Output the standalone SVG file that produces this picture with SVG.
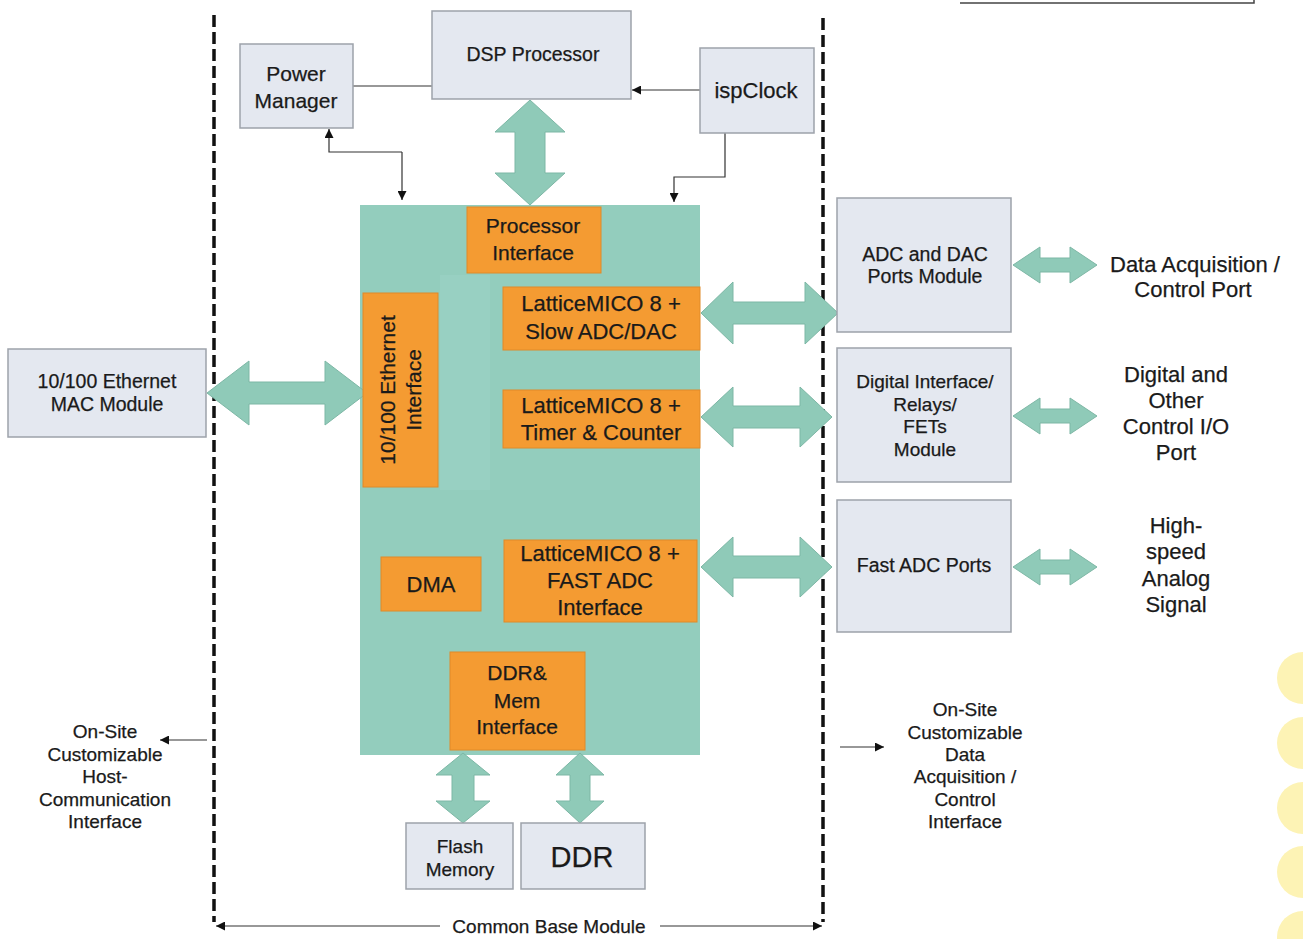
<svg xmlns="http://www.w3.org/2000/svg" width="1303" height="939" viewBox="0 0 1303 939">
<defs>
<style>
.t{font-family:"Liberation Sans",Arial,sans-serif;fill:#1a1a1a;text-anchor:middle;stroke:#1a1a1a;stroke-width:0.25}
.box{fill:#e4e8f0;stroke:#9da2aa;stroke-width:1.5}
.org{fill:#f49b32;stroke:#e08a28;stroke-width:1}
.fat{fill:#8fcab8;stroke:#7db7a5;stroke-width:1}
.thin{fill:none;stroke:#333;stroke-width:1.2}
.dash{fill:none;stroke:#111;stroke-width:3.5;stroke-dasharray:12 5}
</style>
<marker id="ah" viewBox="0 0 10 10" refX="10" refY="5" markerWidth="9" markerHeight="9" markerUnits="userSpaceOnUse" orient="auto">
<path d="M0,0 L10,5 L0,10 Z" fill="#111"/>
</marker>
</defs>
<rect width="1303" height="939" fill="#ffffff"/>

<!-- top right remnant -->
<path d="M960,3 H1254 V0" fill="none" stroke="#444" stroke-width="1.5"/>

<!-- yellow circles -->
<g fill="#fdf3b5">
<circle cx="1303" cy="678" r="26"/>
<circle cx="1303" cy="743" r="26"/>
<circle cx="1303" cy="808" r="26"/>
<circle cx="1303" cy="872" r="26"/>
<circle cx="1303" cy="937" r="26"/>
</g>

<!-- boundary dashed lines -->
<g id="boundary">
<line class="dash" x1="214" y1="15" x2="214" y2="922"/>
<line class="dash" x1="823" y1="18" x2="823" y2="922"/>
</g>

<!-- main teal block -->
<g id="fpga">
<rect x="360" y="205" width="340" height="550" fill="#93cdbd"/>
<rect x="440" y="275" width="50" height="215" fill="#98d0c2"/>
</g>

<g id="connectors">
<!-- fat arrows -->
<path class="fat" d="M530,100 L565,132 L545,132 L545,173 L565,173 L530,205 L495,173 L515,173 L515,132 L495,132 Z"/>
<path class="fat" d="M207,393 L249,361 L249,382 L325,382 L325,361 L367,393 L325,425 L325,404 L249,404 L249,425 Z"/>
<path class="fat" d="M701,313 L733,282 L733,302 L805,302 L805,282 L838,313 L805,344 L805,324 L733,324 L733,344 Z"/>
<path class="fat" d="M701,417 L733,387 L733,406 L800,406 L800,387 L832,417 L800,447 L800,428 L733,428 L733,447 Z"/>
<path class="fat" d="M701,567 L733,537 L733,556 L800,556 L800,537 L832,567 L800,597 L800,578 L733,578 L733,597 Z"/>
<path class="fat" d="M463,753 L490,775 L474,775 L474,801 L490,801 L463,823 L436,801 L452,801 L452,775 L436,775 Z"/>
<path class="fat" d="M580,753 L604,775 L590,775 L590,801 L604,801 L580,823 L556,801 L570,801 L570,775 L556,775 Z"/>
<path class="fat" d="M1013,265 L1040,247 L1040,258 L1070,258 L1070,247 L1097,265 L1070,283 L1070,272 L1040,272 L1040,283 Z"/>
<path class="fat" d="M1013,416 L1040,398 L1040,409 L1070,409 L1070,398 L1097,416 L1070,434 L1070,423 L1040,423 L1040,434 Z"/>
<path class="fat" d="M1013,567 L1040,549 L1040,560 L1070,560 L1070,549 L1097,567 L1070,585 L1070,574 L1040,574 L1040,585 Z"/>
<!-- thin lines -->
<line class="thin" x1="353" y1="86" x2="432" y2="86"/>
<line class="thin" x1="700" y1="90" x2="632" y2="90" marker-end="url(#ah)"/>
<path class="thin" d="M402,152 H329 V129" marker-end="url(#ah)"/>
<path class="thin" d="M402,152 V200" marker-end="url(#ah)"/>
<path class="thin" d="M725,133 V177 H674 V202" marker-end="url(#ah)"/>
<line class="thin" x1="207" y1="740" x2="160" y2="740" marker-end="url(#ah)"/>
<line class="thin" x1="840" y1="747" x2="884" y2="747" marker-end="url(#ah)"/>
<line class="thin" x1="440" y1="926" x2="216" y2="926" marker-end="url(#ah)"/>
<line class="thin" x1="660" y1="926" x2="822" y2="926" marker-end="url(#ah)"/>
</g>

<g id="power-manager">
<rect class="box" x="240" y="44" width="113" height="84"/>
<text class="t" x="296" y="81" font-size="21">Power</text>
<text class="t" x="296" y="108" font-size="21">Manager</text>
</g>
<g id="dsp">
<rect class="box" x="432" y="11" width="199" height="88"/>
<text class="t" x="533" y="61" font-size="19.5">DSP Processor</text>
</g>
<g id="ispclock">
<rect class="box" x="700" y="48" width="114" height="85"/>
<text class="t" x="756" y="98" font-size="22">ispClock</text>
</g>

<g id="processor-interface">
<rect class="org" x="467" y="207" width="134" height="66"/>
<text class="t" x="533" y="233" font-size="21">Processor</text>
<text class="t" x="533" y="260" font-size="21">Interface</text>
</g>
<g id="ethernet-interface">
<rect class="org" x="363" y="293" width="75" height="194"/>
<text class="t" transform="translate(401,390) rotate(-90)" font-size="21"><tspan x="0" y="-6">10/100 Ethernet</tspan><tspan x="0" y="20">Interface</tspan></text>
</g>
<g id="slow-adc">
<rect class="org" x="503" y="287" width="197" height="63"/>
<text class="t" x="601" y="311" font-size="22">LatticeMICO 8 +</text>
<text class="t" x="601" y="339" font-size="22">Slow ADC/DAC</text>
</g>
<g id="timer">
<rect class="org" x="503" y="390" width="197" height="58"/>
<text class="t" x="601" y="413" font-size="22">LatticeMICO 8 +</text>
<text class="t" x="601" y="440" font-size="22">Timer &amp; Counter</text>
</g>
<g id="dma">
<rect class="org" x="381" y="557" width="100" height="54"/>
<text class="t" x="431" y="592" font-size="22">DMA</text>
</g>
<g id="fast-adc-if">
<rect class="org" x="504" y="540" width="193" height="82"/>
<text class="t" x="600" y="561" font-size="22">LatticeMICO 8 +</text>
<text class="t" x="600" y="588" font-size="22">FAST ADC</text>
<text class="t" x="600" y="615" font-size="22">Interface</text>
</g>
<g id="ddr-mem">
<rect class="org" x="450" y="652" width="135" height="98"/>
<text class="t" x="517" y="680" font-size="21">DDR&amp;</text>
<text class="t" x="517" y="708" font-size="21">Mem</text>
<text class="t" x="517" y="734" font-size="21">Interface</text>
</g>

<g id="flash">
<rect class="box" x="406" y="823" width="107" height="66"/>
<text class="t" x="460" y="853" font-size="19">Flash</text>
<text class="t" x="460" y="876" font-size="19">Memory</text>
</g>
<g id="ddr">
<rect class="box" x="521" y="823" width="124" height="66"/>
<text class="t" x="582" y="867" font-size="29">DDR</text>
</g>

<g id="eth-mac">
<rect class="box" x="8" y="349" width="198" height="88"/>
<text class="t" x="107" y="388" font-size="19.5">10/100 Ethernet</text>
<text class="t" x="107" y="411" font-size="19.5">MAC  Module</text>
</g>

<g id="adc-dac">
<rect class="box" x="837" y="198" width="174" height="134"/>
<text class="t" x="925" y="261" font-size="19.5">ADC and DAC</text>
<text class="t" x="925" y="283" font-size="19.5">Ports Module</text>
</g>
<g id="digital">
<rect class="box" x="837" y="348" width="174" height="134"/>
<text class="t" x="925" y="388" font-size="19">Digital Interface/</text>
<text class="t" x="925" y="411" font-size="19">Relays/</text>
<text class="t" x="925" y="433" font-size="19">FETs</text>
<text class="t" x="925" y="456" font-size="19">Module</text>
</g>
<g id="fast-adc-ports">
<rect class="box" x="837" y="500" width="174" height="132"/>
<text class="t" x="924" y="572" font-size="19.5">Fast ADC Ports</text>
</g>

<g id="labels">
<text class="t" x="1195" y="272" font-size="22">Data Acquisition /</text>
<text class="t" x="1193" y="297" font-size="22">Control Port</text>
<text class="t" x="1176" y="382" font-size="22">Digital and</text>
<text class="t" x="1176" y="408" font-size="22">Other</text>
<text class="t" x="1176" y="434" font-size="22">Control I/O</text>
<text class="t" x="1176" y="460" font-size="22">Port</text>
<text class="t" x="1176" y="533" font-size="22">High-</text>
<text class="t" x="1176" y="559" font-size="22">speed</text>
<text class="t" x="1176" y="586" font-size="22">Analog</text>
<text class="t" x="1176" y="612" font-size="22">Signal</text>
<text class="t" x="105" y="738" font-size="19">On-Site</text>
<text class="t" x="105" y="761" font-size="19">Customizable</text>
<text class="t" x="105" y="783" font-size="19">Host-</text>
<text class="t" x="105" y="806" font-size="19">Communication</text>
<text class="t" x="105" y="828" font-size="19">Interface</text>
<text class="t" x="965" y="716" font-size="19">On-Site</text>
<text class="t" x="965" y="739" font-size="19">Customizable</text>
<text class="t" x="965" y="761" font-size="19">Data</text>
<text class="t" x="965" y="783" font-size="19">Acquisition /</text>
<text class="t" x="965" y="806" font-size="19">Control</text>
<text class="t" x="965" y="828" font-size="19">Interface</text>
<text class="t" x="549" y="933" font-size="19">Common Base Module</text>
</g>
</svg>
